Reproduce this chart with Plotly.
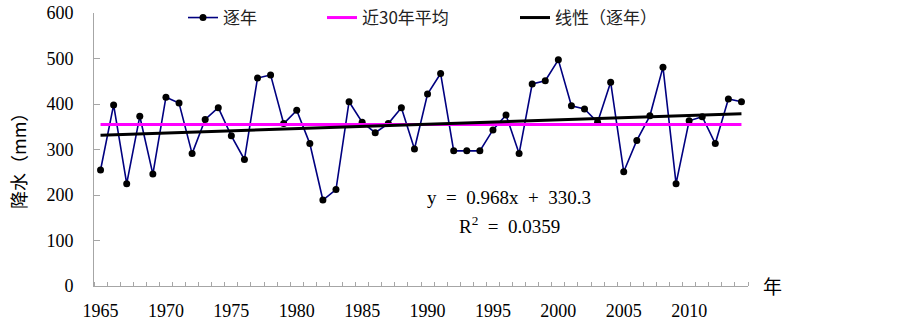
import plotly.graph_objects as go

years = list(range(1965, 2015))
precip = [255, 398, 225, 373, 246, 415, 402, 291, 366, 392,
          330, 278, 457, 464, 357, 386, 313, 189, 212, 405,
          360, 337, 357, 392, 301, 422, 467, 297, 297, 297,
          343, 376, 291, 444, 451, 497, 396, 389, 360, 448,
          251, 320, 374, 481, 225, 363, 372, 313, 411, 405]
avg30 = 355
slope = 0.968
intercept = 330.3
r2 = 0.0359
xtick_vals = [1965, 1970, 1975, 1980, 1985, 1990, 1995, 2000, 2005, 2010]
ytick_vals = [0, 100, 200, 300, 400, 500, 600]

serif = "Liberation Serif, Noto Sans CJK SC, serif"
cjk = "Noto Sans CJK SC, Liberation Serif, sans-serif"

trend_x = [years[0], years[-1]]
trend_y = [slope * (y - years[0] + 1) + intercept for y in trend_x]

# plot area in screen px (page body margin removed below)
SL, SR, ST, SB = 94, 748, 13, 286
W, H = 903, 330
L, T = SL, ST
R, B = W - SR, H - SB
PW, PH = SR - SL, SB - ST


def px_x(px):
    return (px - SL) / PW


def px_y(py):
    return (SB - py) / PH


sp = "\u00a0\u00a0"

fig = go.Figure()
fig.add_trace(go.Scatter(
    x=years, y=precip, mode="lines+markers", name="逐年",
    line=dict(color="#000080", width=1.6),
    marker=dict(color="black", size=7), legend="legend"))
fig.add_trace(go.Scatter(
    x=trend_x, y=[avg30, avg30], mode="lines", name="近30年平均",
    line=dict(color="#FF00FF", width=3), legend="legend2"))
fig.add_trace(go.Scatter(
    x=trend_x, y=trend_y, mode="lines", name="线性（逐年）",
    line=dict(color="black", width=3), legend="legend3"))

leg_common = dict(orientation="h", xref="paper", yref="paper",
                  yanchor="middle", xanchor="left", y=px_y(18),
                  bgcolor="rgba(0,0,0,0)",
                  font=dict(family=cjk, size=17, color="#222"))
fig.update_layout(
    width=W, height=H,
    margin=dict(l=L, r=R, t=T, b=B, autoexpand=False),
    paper_bgcolor="white", plot_bgcolor="white",
    showlegend=True,
    legend=dict(x=px_x(183), **leg_common),
    legend2=dict(x=px_x(322), **leg_common),
    legend3=dict(x=px_x(515), **leg_common),
    xaxis=dict(
        range=[1964.5, 2014.5], tickmode="array", tickvals=xtick_vals,
        ticks="", showgrid=False, zeroline=False,
        showline=True, linecolor="#a6a6a6", linewidth=1,
        tickfont=dict(family=serif, size=18, color="black"),
        ticklabelstandoff=8, ticklabeloverflow="allow",
        minor=dict(tickmode="linear", tick0=1964.5, dtick=1,
                   ticks="inside", ticklen=4, tickcolor="#a6a6a6",
                   tickwidth=1, showgrid=False),
    ),
    yaxis=dict(
        range=[0, 600], tickmode="array", tickvals=ytick_vals,
        ticks="inside", ticklen=6, tickcolor="#a6a6a6",
        showgrid=False, zeroline=False,
        showline=True, linecolor="#a6a6a6", linewidth=1,
        tickfont=dict(family=serif, size=18, color="black"),
        ticklabelstandoff=16, ticklabeloverflow="allow",
    ),
    annotations=[
        dict(text=f"y{sp}={sp}{slope:.3f}x{sp}+{sp}{intercept}",
             x=1996.2, y=195, xref="x", yref="y", showarrow=False,
             font=dict(family=serif, size=19, color="black")),
        dict(text=f"R<sup>2</sup>{sp}={sp}{r2}",
             x=1996.3, y=134, xref="x", yref="y", showarrow=False,
             font=dict(family=serif, size=19, color="black")),
        dict(text="降水（mm）", xref="paper", yref="paper",
             x=px_x(18), y=px_y(157), showarrow=False, textangle=-90,
             xanchor="center", yanchor="middle",
             font=dict(family=cjk, size=18, color="black")),
        dict(text="年", xref="paper", yref="paper",
             x=px_x(772), y=px_y(285), showarrow=False,
             xanchor="center", yanchor="middle",
             font=dict(family=cjk, size=19, color="black")),
    ],
)

fig.write_html("out.html", config={"displayModeBar": False},
               post_script="document.body.style.margin='0px';")
